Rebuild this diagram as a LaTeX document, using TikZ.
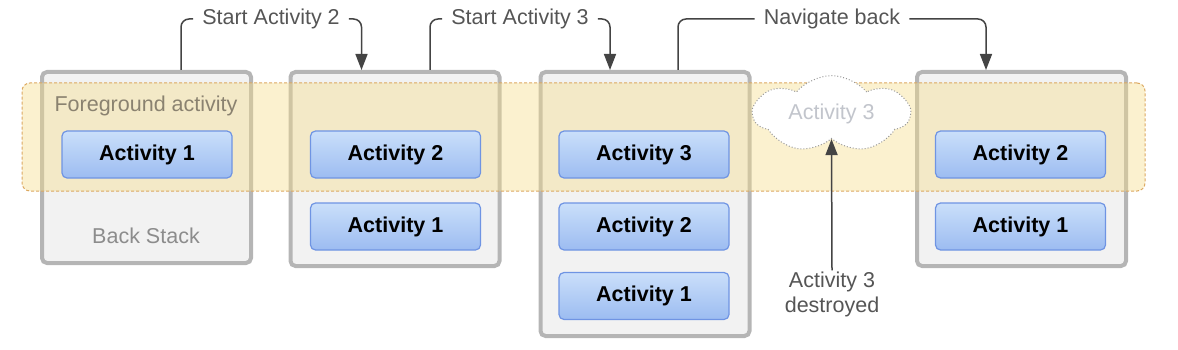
\documentclass[tikz,border=0pt]{standalone}
\usepackage{fontspec}
\setmainfont{Liberation Sans}
\usetikzlibrary{shapes.symbols,arrows.meta}
\definecolor{stackfill}{HTML}{F2F2F2}
\definecolor{stackline}{HTML}{B5B5B5}
\definecolor{acttop}{HTML}{CADFFA}
\definecolor{actbot}{HTML}{9CBCF1}
\definecolor{actline}{HTML}{6F94E3}
\definecolor{bandfill}{HTML}{F5DD8C}
\definecolor{bandline}{HTML}{DCA860}
\definecolor{conncol}{HTML}{444444}
\definecolor{labcol}{HTML}{555555}
\definecolor{fgcol}{HTML}{8A8270}
\definecolor{bscol}{HTML}{8C8C8C}
\definecolor{ghost}{HTML}{C2C5CC}
\begin{document}
\begin{tikzpicture}[x=1pt,y=-1pt,
  every node/.style={font=\fontsize{21.5}{25}\selectfont},
  stackbox/.style={draw=stackline, line width=4pt, fill=stackfill, rounded corners=5pt, minimum width=209pt, inner sep=0pt},
  actbox/.style={draw=actline, line width=1.2pt, top color=acttop, bottom color=actbot, rounded corners=5pt, minimum width=170pt, minimum height=47pt, inner sep=0pt, font=\fontsize{21.5}{25}\selectfont\bfseries},
  band/.style={draw=bandline, line width=1pt, dash pattern=on 3pt off 2pt, fill=bandfill, fill opacity=0.42, draw opacity=1, rounded corners=8pt, minimum width=1123pt, minimum height=108pt, inner sep=0pt},
  lab/.style={text=labcol, inner xsep=9pt, inner ysep=2pt},
  conn/.style={draw=conncol, line width=1.5pt, rounded corners=8pt},
  tip/.style={-{Triangle[length=16pt,width=12pt]}},
  ghostcloud/.style={cloud, cloud puffs=7, cloud puff arc=100, aspect=2.1, draw=gray!80, dotted, line width=1pt, fill=white, minimum width=156pt, minimum height=76pt, inner sep=0pt, text=ghost}
]
\useasboundingbox (0,0) rectangle (1178,350);
% stacks
\node[stackbox, minimum height=191pt] (s1) at (146.5,167.5) {};
\node[stackbox, minimum height=194pt] (s2) at (395,169) {};
\node[stackbox, minimum height=264pt] (s3) at (645,204) {};
\node[stackbox, minimum height=194pt] (s4) at (1021.5,169) {};
% foreground band
\node[band] (fg) at (583.5,137) {};
\node[text=fgcol] (fgt) at (146,106) {Foreground activity};
\node[text=bscol] (bs) at (146,236) {Back Stack};
% activities
\node[actbox] (a11) at (147,154.5) {Activity 1};
\node[actbox] (a22) at (395.5,154.5) {Activity 2};
\node[actbox] (a21) at (395.5,226.5) {Activity 1};
\node[actbox] (a33) at (644,154.5) {Activity 3};
\node[actbox] (a32) at (644,226.5) {Activity 2};
\node[actbox] (a31) at (644,296) {Activity 1};
\node[actbox] (a42) at (1020.5,154.5) {Activity 2};
\node[actbox] (a41) at (1020.5,226.5) {Activity 1};
% destroyed activity
\node[ghostcloud] (cl) at (831.5,114) {Activity 3};
\node[text=labcol, align=center, inner ysep=1pt] (dst) at (832,294) {Activity 3\\destroyed};
% labels
\node[lab] (l1) at (271,19) {Start Activity 2};
\node[lab] (l2) at (520,19) {Start Activity 3};
\node[lab] (l3) at (832,19) {Navigate back};
% connectors
\draw[conn] ([xshift=34.5pt]s1.north) |- (l1.west);
\draw[conn, tip] (l1.east) -| ([xshift=-33.5pt]s2.north);
\draw[conn] ([xshift=35pt]s2.north) |- (l2.west);
\draw[conn, tip] (l2.east) -| ([xshift=-35pt]s3.north);
\draw[conn] ([xshift=33pt]s3.north) |- (l3.west);
\draw[conn, tip] (l3.east) -| ([xshift=-35.5pt]s4.north);
\draw[conn, tip] (dst.north) -- (cl.south);
\end{tikzpicture}
\end{document}
